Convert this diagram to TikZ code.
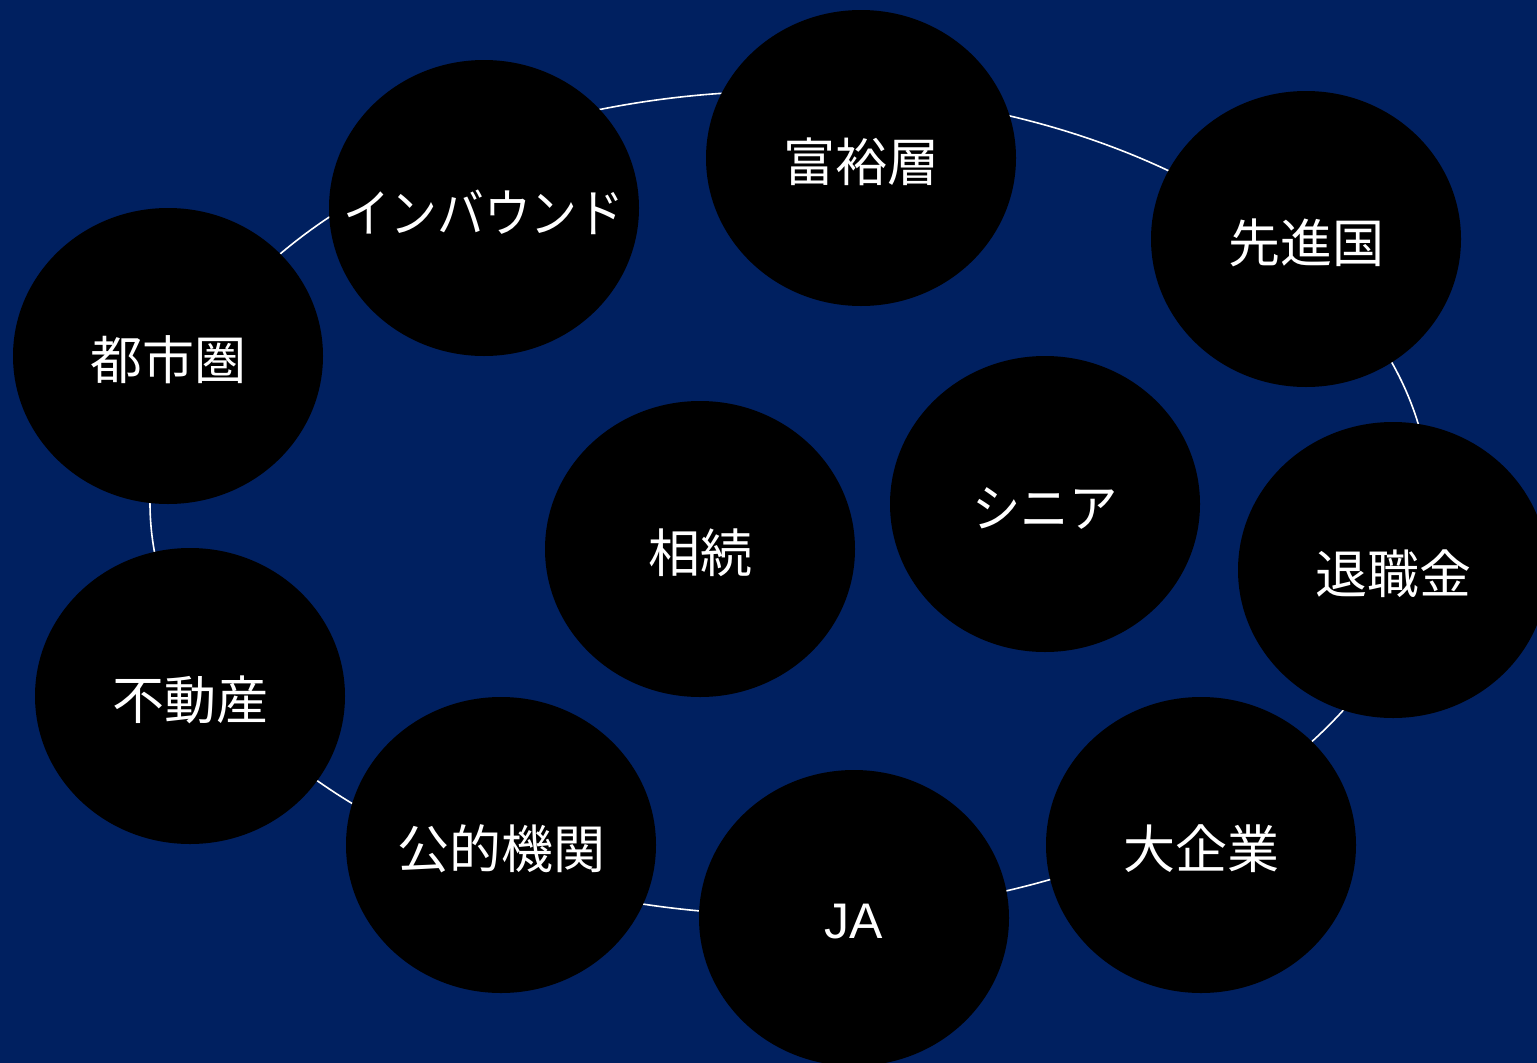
\documentclass[tikz,border=0pt]{standalone}
\usepackage{fontspec}
\newfontfamily\jpfont{Noto Sans CJK JP}
\newfontfamily\lafont{Liberation Sans}
\definecolor{navy}{HTML}{002060}
\usetikzlibrary{shapes.geometric}
\tikzset{
  bubble/.style={ellipse, fill=black, minimum width=310pt, minimum height=296pt, inner sep=0pt},
  btext/.style={text=white, font=\jpfont\fontsize{52}{60}\selectfont, inner sep=0pt, yshift=-4pt},
  ring/.style={draw=white, line width=1.6pt}
}
\begin{document}
\begin{tikzpicture}[x=1pt,y=-1pt]
\useasboundingbox (0,0) rectangle (1537,1063);
\clip (0,0) rectangle (1537,1063);
\fill[navy] (0,0) rectangle (1537,1063);
\coordinate (c) at (790,503);
\draw[ring] (c) ellipse [x radius=640pt, y radius=412pt];
\node[bubble] (fuyu) at (861,158) {};
\node[bubble] (inb) at (484,208) {};
\node[bubble] (senshin) at (1306,239) {};
\node[bubble] (toshi) at (168,356) {};
\node[bubble] (senior) at (1045,504) {};
\node[bubble] (souzoku) at (700,549) {};
\node[bubble] (taishoku) at (1393,570) {};
\node[bubble] (fudousan) at (190,696) {};
\node[bubble] (kouteki) at (501,845) {};
\node[bubble] (ja) at (854,918) {};
\node[bubble] (daikigyo) at (1201,845) {};
\node[btext] (t-fuyu) at (fuyu.center) {富裕層};
\node[btext] (t-inb) at (inb.center) {\scalebox{0.9}[1]{インバウンド}};
\node[btext] (t-senshin) at (senshin.center) {先進国};
\node[btext] (t-toshi) at (toshi.center) {都市圏};
\node[btext] (t-senior) at (senior.center) {\scalebox{0.93}[1]{シニア}};
\node[btext] (t-souzoku) at (souzoku.center) {相続};
\node[btext] (t-taishoku) at (taishoku.center) {退職金};
\node[btext] (t-fudousan) at (fudousan.center) {不動産};
\node[btext] (t-kouteki) at (kouteki.center) {公的機関};
\node[btext, font=\lafont\fontsize{50}{60}\selectfont] (t-ja) at (ja.center) {JA};
\node[btext] (t-daikigyo) at (daikigyo.center) {大企業};
\end{tikzpicture}
\end{document}
